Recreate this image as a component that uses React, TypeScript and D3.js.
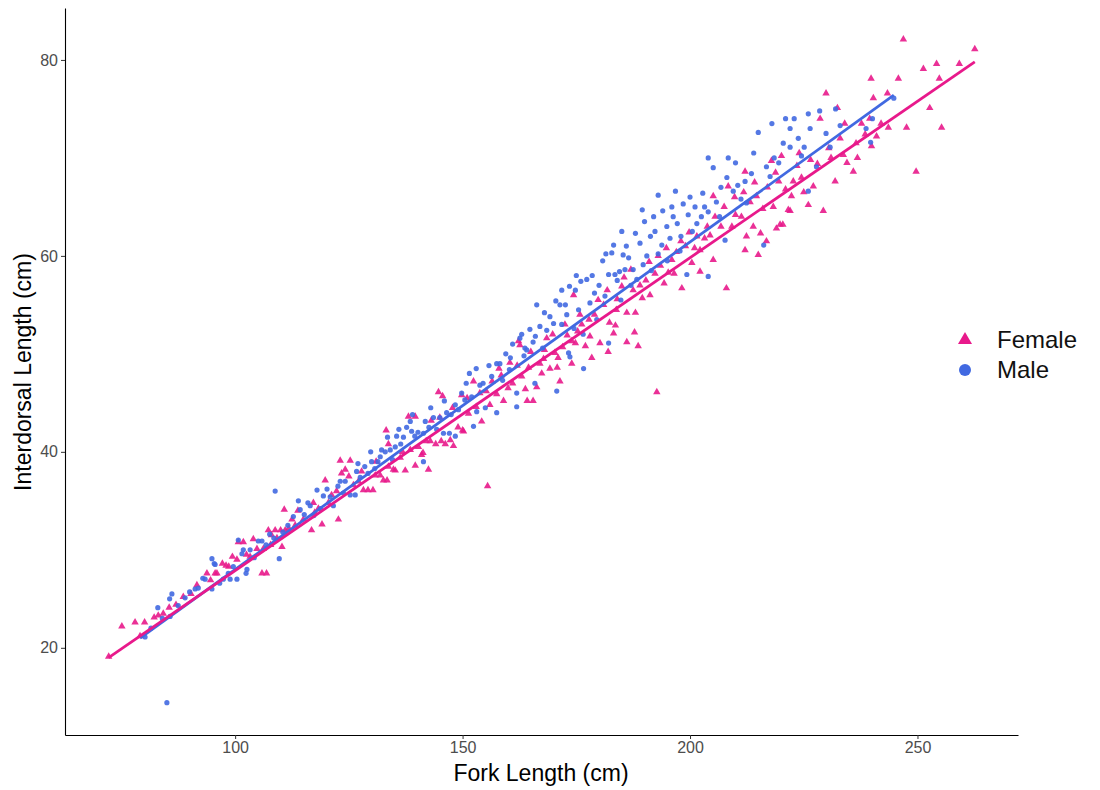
import React, { useEffect, useRef } from 'react';
import * as d3 from 'd3';

// [fork length, interdorsal length]
const female: [number, number][] = [
  [72.2, 19.1], [75.1, 22.2], [78.0, 22.6], [79.1, 21.2], [80.1, 22.6], [82.2, 23.1], [83.1, 23.3], [84.2, 23.5],
  [85.5, 24.1], [87.0, 24.4], [88.6, 25.2], [90.3, 25.5], [91.6, 26.4], [93.8, 27.6], [94.6, 26.9], [95.6, 27.6],
  [96.0, 27.6], [97.2, 28.6], [98.0, 28.4], [98.6, 28.3], [99.4, 29.3], [100.4, 29.0],
  [100.7, 30.8], [101.8, 30.8], [102.5, 29.5], [103.3, 29.3], [104.0, 31.1], [104.8, 30.1], [105.9, 27.6], [106.2, 30.1],
  [106.9, 27.6], [107.3, 32.0], [107.8, 30.5], [108.0, 31.5], [108.8, 32.0], [109.2, 31.2], [110.0, 32.0], [110.3, 30.3],
  [110.8, 34.1], [111.0, 32.0], [111.8, 32.2], [112.5, 33.1], [113.2, 32.5], [113.8, 34.0], [115.0, 33.1], [116.8, 32.0],
  [117.2, 34.8], [117.5, 33.8], [118.3, 34.2], [119.1, 32.6], [119.8, 37.1], [120.5, 34.8],
  [121.2, 35.6], [122.3, 36.0], [122.7, 33.1], [123.1, 39.1], [123.4, 37.8], [124.2, 38.2], [125.3, 39.1], [125.0, 37.5],
  [126.0, 36.6], [127.1, 37.0], [127.8, 38.0], [128.2, 36.1], [129.2, 36.1], [130.3, 36.1], [130.8, 37.6], [131.0, 39.0],
  [131.9, 37.6], [132.6, 37.1], [133.2, 42.2], [133.4, 37.1], [133.7, 38.5], [133.7, 40.8], [134.8, 38.2], [135.2, 38.1],
  [136.3, 39.4], [136.8, 40.0], [137.4, 38.1], [138.1, 43.6], [138.5, 40.2], [139.6, 43.6], [139.6, 38.6], [140.3, 40.5],
  [141.0, 39.7], [141.3, 39.9], [142.0, 41.1], [142.5, 38.2], [142.9, 41.1], [143.1, 43.2], [144.1, 40.8], [144.7, 46.1],
  [145.0, 43.5], [145.3, 41.1], [145.6, 45.7], [146.2, 40.8], [147.3, 41.2], [147.8, 44.5], [148.0, 40.6], [149.0, 42.5],
  [149.8, 45.8], [150.0, 42.2],
  [150.2, 42.1], [151.0, 45.5], [151.3, 43.9], [152.4, 47.2], [153.0, 44.6], [153.8, 46.0], [154.2, 43.1], [155.2, 46.2],
  [155.5, 36.5], [156.0, 44.8], [156.5, 47.2], [157.5, 45.9], [158.0, 48.5], [158.5, 47.8], [159.0, 45.2], [160.0, 46.5],
  [160.4, 49.1], [161.0, 47.0], [162.0, 48.8], [162.3, 51.3], [162.6, 50.9], [163.0, 47.7], [163.8, 46.4], [164.2, 45.2],
  [164.5, 48.6], [165.0, 50.2], [165.5, 45.2], [166.3, 46.6], [167.0, 49.0], [167.4, 48.0], [167.8, 49.5], [168.0, 50.4],
  [168.5, 51.6], [169.2, 48.5], [169.8, 52.0], [170.3, 50.1], [170.8, 48.6], [171.0, 49.6], [171.4, 47.2], [172.0, 50.7],
  [172.5, 53.0], [173.0, 51.9], [174.0, 49.0], [174.0, 51.3], [174.4, 56.0], [174.8, 51.1], [175.3, 52.3], [175.8, 54.0],
  [176.2, 53.0], [177.0, 50.8], [177.8, 53.5], [178.0, 51.8], [178.4, 49.6], [179.0, 54.0], [179.8, 55.5],
  [180.2, 51.1], [181.0, 55.0], [181.8, 56.5], [182.0, 50.2], [182.3, 53.2], [183.2, 52.1], [183.6, 52.9], [183.8, 54.5],
  [184.0, 55.6], [185.0, 56.9], [185.5, 57.8], [186.1, 54.2], [186.1, 51.2], [187.0, 58.6], [187.5, 56.5], [187.8, 52.2],
  [188.0, 54.2], [188.6, 50.8], [189.0, 57.0], [189.5, 55.7], [190.3, 57.5], [191.0, 59.4], [191.2, 56.0], [192.3, 58.2],
  [192.7, 46.1], [193.0, 60.0], [193.5, 59.0], [194.3, 57.2], [194.8, 60.8], [195.2, 58.3], [196.0, 59.6], [196.5, 58.2],
  [197.0, 60.4], [198.0, 61.5], [198.2, 56.7], [199.0, 61.0], [199.8, 62.4], [200.4, 59.3], [201.0, 60.8], [201.5, 62.0],
  [202.2, 60.6], [202.2, 58.4], [203.2, 61.8], [203.8, 63.0], [204.4, 62.1], [205.1, 59.6], [205.1, 66.1], [205.5, 64.0],
  [206.8, 63.0], [207.5, 65.0], [208.0, 56.7], [208.4, 67.1], [209.2, 63.0], [209.8, 66.0], [210.0, 64.2],
  [211.3, 64.0], [211.8, 66.5], [212.1, 68.6], [212.1, 60.6], [212.4, 62.0], [213.2, 65.5], [213.9, 63.0], [214.2, 67.5],
  [214.6, 66.1], [215.0, 60.1], [215.5, 62.3], [216.0, 64.8], [216.8, 61.5], [217.0, 67.0], [217.9, 69.7], [218.3, 65.0],
  [218.8, 68.5], [219.0, 62.8], [219.5, 67.6], [219.8, 63.2], [220.1, 70.2], [220.4, 63.2], [221.0, 66.8], [221.6, 64.7],
  [222.0, 64.6], [222.3, 66.1], [222.7, 67.6], [223.5, 69.2], [224.0, 70.5], [224.5, 68.0], [225.0, 66.5], [226.0, 65.2],
  [226.5, 69.8], [227.1, 67.1], [228.0, 69.4], [228.6, 74.0], [229.3, 64.6], [229.9, 76.6], [230.5, 71.0], [231.0, 70.0],
  [231.9, 67.6], [232.4, 75.1], [233.0, 72.0], [233.7, 70.3], [234.0, 73.5], [234.5, 69.5], [235.9, 68.6], [236.5, 71.5],
  [236.8, 70.0], [237.7, 73.5], [238.5, 72.4], [239.5, 74.0], [239.8, 78.1], [239.9, 71.2], [240.3, 76.1], [241.0, 72.2],
  [242.0, 73.5], [243.4, 76.6], [243.6, 73.1], [245.8, 78.1], [246.9, 82.1], [247.6, 73.1], [249.7, 68.6], [251.3, 79.1],
  [252.7, 75.1], [254.2, 79.6], [254.8, 78.1], [255.3, 73.1], [259.2, 79.6], [262.6, 81.1],
];

const male: [number, number][] = [
  [85.0, 14.4], [80.2, 21.1], [81.5, 22.0], [83.0, 24.1], [84.0, 23.0], [85.6, 25.0], [86.1, 25.5], [85.7, 23.2],
  [87.5, 24.3], [89.0, 25.1], [90.0, 25.7], [91.2, 26.0], [91.9, 26.1], [92.9, 27.1], [93.4, 27.0], [94.9, 26.0],
  [94.9, 29.1], [95.4, 28.6], [95.6, 28.5], [96.6, 26.6], [97.4, 27.0], [98.5, 27.6], [98.9, 27.0], [99.6, 28.3], [100.4, 27.0],
  [100.7, 31.0], [101.5, 29.6], [101.8, 30.0], [102.4, 27.6], [102.6, 28.0], [103.3, 30.0], [104.2, 29.2], [105.1, 30.9],
  [105.9, 30.9], [106.8, 30.5], [107.6, 31.6], [108.5, 31.2], [108.8, 36.0], [109.7, 29.1], [110.5, 31.8], [111.6, 32.5],
  [112.8, 33.4], [113.9, 35.0], [114.3, 34.1], [115.2, 33.6], [116.0, 34.8], [116.5, 34.5], [117.3, 33.5], [118.0, 36.1],
  [118.8, 34.2], [119.4, 35.5], [120.2, 36.2],
  [120.9, 35.4], [121.6, 34.5], [122.6, 36.5], [123.1, 37.0], [123.8, 35.8], [124.2, 37.0], [125.3, 35.6], [126.4, 35.6],
  [126.7, 38.0], [127.0, 38.8], [127.5, 37.4], [128.5, 38.5], [129.2, 37.8], [129.8, 40.0], [130.0, 39.0], [130.7, 38.3],
  [131.4, 39.0], [131.9, 39.5], [132.2, 40.2], [133.0, 40.0], [133.5, 41.5], [134.1, 40.2], [134.6, 39.2], [135.2, 40.5],
  [135.5, 41.6], [136.0, 42.3], [136.4, 40.8], [137.0, 41.5], [137.7, 42.5], [138.5, 43.1], [138.8, 42.1], [139.0, 43.8],
  [139.5, 41.6], [140.2, 42.0], [141.4, 41.9], [141.4, 39.0], [141.8, 43.1], [142.6, 42.5], [143.0, 44.5], [143.6, 43.5],
  [144.3, 42.3], [145.0, 43.5], [145.8, 41.9], [146.0, 45.2], [146.5, 44.0], [147.1, 41.9], [147.5, 43.8], [148.4, 41.6],
  [148.4, 44.8], [149.1, 44.3], [149.8, 46.0], [150.5, 45.3],
  [150.8, 47.0], [151.5, 48.0], [152.0, 45.6], [152.4, 42.6], [153.0, 48.5], [153.1, 44.1], [153.8, 46.8], [154.5, 47.0],
  [155.0, 44.5], [155.8, 48.8], [156.4, 47.7], [157.5, 49.0], [157.5, 44.0], [158.2, 49.0], [158.8, 47.3], [159.5, 50.0],
  [160.3, 48.4], [160.5, 49.6], [161.0, 51.0], [161.9, 46.0], [161.9, 44.6], [162.6, 51.6], [163.0, 52.0], [163.5, 49.8],
  [163.7, 50.6], [164.1, 50.4], [164.8, 52.5], [165.5, 51.2], [165.9, 47.0], [166.0, 51.8], [166.3, 55.0], [167.0, 52.8],
  [167.6, 50.6], [168.0, 54.2], [168.5, 52.4], [169.2, 53.8], [170.0, 53.1], [170.5, 55.4], [170.7, 46.2], [171.4, 55.0],
  [171.8, 56.5], [171.8, 53.0], [172.6, 55.0], [172.9, 54.0], [173.3, 50.1], [173.5, 56.9], [173.6, 49.7], [174.5, 52.6],
  [174.8, 56.5], [175.0, 58.0], [175.5, 54.5], [176.0, 57.4], [176.5, 52.0], [176.6, 48.5], [177.3, 57.6], [178.0, 55.2],
  [178.5, 58.0], [179.0, 56.2], [179.5, 53.5], [180.0, 57.0],
  [180.8, 59.5], [181.3, 55.9], [181.5, 60.2], [182.1, 51.1], [182.1, 58.1], [182.8, 60.3], [183.2, 61.1], [183.5, 58.1],
  [184.0, 57.5], [184.5, 58.4], [184.8, 55.5], [185.0, 62.5], [185.3, 60.1], [185.7, 58.6], [186.0, 61.0], [186.5, 59.8],
  [187.0, 57.0], [187.5, 58.6], [188.0, 62.3], [188.3, 57.6], [189.0, 61.3], [189.5, 64.7], [189.7, 59.1], [190.0, 63.5],
  [190.5, 60.0], [191.3, 62.0], [191.5, 58.5], [192.0, 64.0], [192.3, 62.5], [193.0, 60.2], [193.0, 66.2], [193.8, 61.1],
  [194.0, 64.6], [194.9, 63.0], [195.0, 59.5], [195.6, 61.8], [196.0, 65.0], [196.3, 64.0], [196.8, 66.6], [197.2, 63.3],
  [197.8, 60.5], [198.0, 62.0], [198.5, 65.3], [199.3, 58.1], [199.6, 64.2], [200.0, 66.0], [200.5, 62.5], [201.1, 65.0],
  [201.5, 63.3], [202.5, 64.0], [202.8, 66.4], [203.2, 65.0], [204.0, 64.5], [204.0, 70.0], [204.0, 57.9], [205.1, 69.0],
  [205.8, 65.5], [206.5, 64.0], [206.8, 67.0], [207.7, 61.6], [208.1, 68.0], [208.4, 70.0], [209.5, 66.6],
  [210.0, 69.5], [210.5, 67.2], [211.2, 65.8], [212.1, 67.6], [212.4, 65.4], [213.5, 68.4], [214.0, 70.5], [215.0, 72.6],
  [216.2, 61.1], [216.8, 69.1], [217.6, 68.1], [218.0, 73.5], [218.5, 70.0], [219.5, 69.5], [220.5, 71.5], [221.0, 74.0],
  [222.0, 73.0], [222.0, 71.1], [222.9, 74.0], [223.8, 72.0], [224.5, 70.2], [225.1, 71.1], [226.0, 74.5], [226.4, 73.0],
  [226.0, 66.6], [227.8, 69.1], [228.5, 74.8], [229.9, 72.5], [230.8, 71.1], [232.0, 75.0], [233.0, 73.3], [238.7, 73.0],
  [239.7, 71.6], [240.1, 74.0], [244.8, 76.1],
];

// end points of the two lm fits
const femaleFit: [number, number][] = [[72.2, 19.0], [262.6, 79.8]];
const maleFit: [number, number][] = [[79.1, 21.0], [244.8, 76.4]];

const xTicks = [100, 150, 200, 250];
const yTicks = [20, 40, 60, 80];

const FEMALE_COL = '#e8198b';
const MALE_COL = '#4169e1';

export default function App() {
  const svgRef = useRef<SVGSVGElement>(null);

  useEffect(() => {
    const width = 1100;
    const height = 790;
    const left = 65, right = 1018, top = 8, bottom = 735;
    const font = '"Liberation Sans", Arial, sans-serif';

    const svg = d3.select(svgRef.current);
    svg.selectAll('*').remove();
    svg.attr('width', width).attr('height', height);

    const x = d3.scaleLinear().domain([62.6, 272.1]).range([left, right]);
    const y = d3.scaleLinear().domain([11.1, 85.3]).range([bottom, top]);

    // points
    const tri = d3.symbol().type(d3.symbolTriangle).size(24);
    svg.append('g')
      .selectAll('path')
      .data(female)
      .enter()
      .append('path')
      .attr('d', tri)
      .attr('transform', d => `translate(${x(d[0])},${y(d[1])})`)
      .attr('fill', FEMALE_COL)
      .attr('opacity', 0.9);

    svg.append('g')
      .selectAll('circle')
      .data(male)
      .enter()
      .append('circle')
      .attr('cx', d => x(d[0]))
      .attr('cy', d => y(d[1]))
      .attr('r', 2.6)
      .attr('fill', MALE_COL)
      .attr('opacity', 0.9);

    // fitted lines
    const line = d3.line<[number, number]>().x(d => x(d[0])).y(d => y(d[1]));
    svg.append('path').attr('d', line(maleFit)).attr('stroke', MALE_COL)
      .attr('stroke-width', 2.8).attr('fill', 'none');
    svg.append('path').attr('d', line(femaleFit)).attr('stroke', FEMALE_COL)
      .attr('stroke-width', 2.8).attr('fill', 'none');

    // axes
    const xAxis = svg.append('g')
      .attr('transform', `translate(0,${bottom})`)
      .call(d3.axisBottom(x).tickValues(xTicks).tickSize(4).tickSizeOuter(0).tickPadding(3));
    const yAxis = svg.append('g')
      .attr('transform', `translate(${left},0)`)
      .call(d3.axisLeft(y).tickValues(yTicks).tickSize(4).tickSizeOuter(0).tickPadding(3));
    [xAxis, yAxis].forEach(g => {
      g.select('.domain').attr('stroke', '#000').attr('stroke-width', 1.1);
      g.selectAll('.tick line').attr('stroke', '#333');
      g.selectAll('.tick text')
        .attr('fill', '#4d4d4d')
        .style('font-family', font)
        .style('font-size', '16px');
    });

    // axis titles
    svg.append('text')
      .attr('x', 541)
      .attr('y', 781)
      .attr('text-anchor', 'middle')
      .style('font-family', font)
      .style('font-size', '23px')
      .text('Fork Length (cm)');

    svg.append('text')
      .attr('transform', 'rotate(-90)')
      .attr('x', -372)
      .attr('y', 31)
      .attr('text-anchor', 'middle')
      .style('font-family', font)
      .style('font-size', '23px')
      .text('Interdorsal Length (cm)');

    // legend
    const legend = svg.append('g').attr('transform', 'translate(965,340)');
    legend.append('path')
      .attr('d', d3.symbol().type(d3.symbolTriangle).size(85)())
      .attr('fill', FEMALE_COL);
    legend.append('circle').attr('cx', 0).attr('cy', 30).attr('r', 6).attr('fill', MALE_COL);
    legend.append('text').attr('x', 32).attr('y', 8).text('Female')
      .style('font-family', font).style('font-size', '24px').attr('fill', '#111');
    legend.append('text').attr('x', 32).attr('y', 38).text('Male')
      .style('font-family', font).style('font-size', '24px').attr('fill', '#111');
  }, []);

  return <svg ref={svgRef} style={{ position: 'absolute', left: 0, top: 0 }}></svg>;
}
